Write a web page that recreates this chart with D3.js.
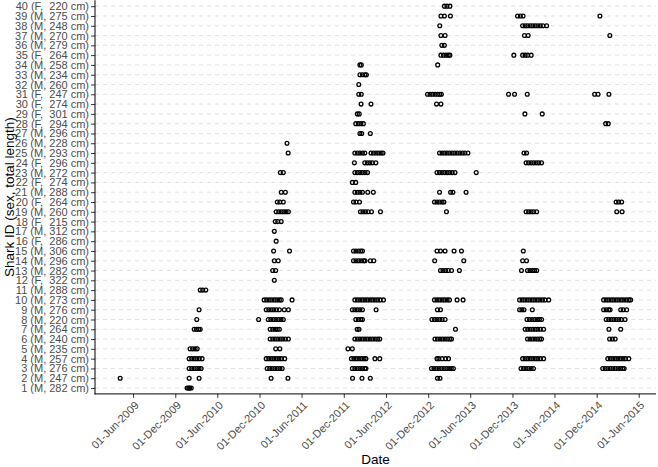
<!DOCTYPE html>
<html>
<head>
<meta charset="utf-8">
<script src="https://cdn.jsdelivr.net/npm/d3@7"></script>
<style>
  html, body { margin: 0; padding: 0; background: #fff; }
  svg { display: block; font-family: "Liberation Sans", Arial, sans-serif; }
</style>
</head>
<body>
<svg id="chart" width="658" height="467"></svg>
<script>
// ---------- data ----------
const sharkIds = d3.range(1, 41);
const sharkLabels = [
  "1 (M, 282 cm)", "2 (M, 247 cm)", "3 (M, 276 cm)", "4 (M, 257 cm)", "5 (M, 235 cm)",
  "6 (M, 240 cm)", "7 (M, 264 cm)", "8 (M, 220 cm)", "9 (M, 276 cm)", "10 (M, 273 cm)",
  "11 (M, 288 cm)", "12 (F,  322 cm)", "13 (M, 282 cm)", "14 (M, 296 cm)", "15 (M, 306 cm)",
  "16 (F,  286 cm)", "17 (M, 312 cm)", "18 (F,  215 cm)", "19 (M, 260 cm)", "20 (F,  264 cm)",
  "21 (M, 288 cm)", "22 (F,  274 cm)", "23 (M, 272 cm)", "24 (F,  296 cm)", "25 (M, 293 cm)",
  "26 (M, 228 cm)", "27 (M, 296 cm)", "28 (F,  294 cm)", "29 (F,  301 cm)", "30 (F,  274 cm)",
  "31 (F,  247 cm)", "32 (M, 260 cm)", "33 (M, 234 cm)", "34 (M, 258 cm)", "35 (F,  264 cm)",
  "36 (M, 279 cm)", "37 (M, 270 cm)", "38 (M, 248 cm)", "39 (M, 275 cm)", "40 (F,  220 cm)"
];
// detection days, counted in days since 1 Jan 2009, one list per shark (index = ID - 1)
const detectionDays = [
  [385, 392, 396, 403],
  [95, 394, 437, 749, 822, 1102, 1143, 1179, 1470, 1481],
  [394, 405, 416, 427, 437, 446, 732, 743, 754, 765, 776, 787, 797, 1101, 1112, 1123, 1134, 1145, 1155, 1160, 1444, 1455, 1466, 1477, 1488, 1499, 1510, 1520, 1530, 1539, 1832, 1843, 1854, 1865, 1876, 1886, 2186, 2197, 2208, 2219, 2230, 2241, 2252, 2263, 2272, 2279],
  [394, 405, 416, 427, 438, 450, 728, 739, 750, 761, 772, 783, 794, 808, 1097, 1108, 1119, 1130, 1141, 1152, 1160, 1199, 1220, 1468, 1476, 1490, 1505, 1518, 1839, 1850, 1861, 1872, 1883, 1894, 1905, 1916, 1930, 2208, 2219, 2230, 2241, 2252, 2263, 2274, 2285, 2299],
  [398, 409, 420, 429, 769, 787, 1082, 1101],
  [745, 756, 767, 778, 789, 800, 811, 824, 1112, 1123, 1134, 1145, 1156, 1167, 1178, 1189, 1200, 1211, 1220, 1459, 1470, 1481, 1492, 1503, 1514, 1524, 1531, 1860, 1871, 1882, 1893, 1904, 1914, 1921, 2216, 2228, 2240],
  [416, 426, 435, 442, 745, 756, 767, 776, 785, 1122, 1130, 1548, 1850, 1861, 1872, 1883, 1894, 1905, 1916, 1930, 2213, 2264],
  [427, 695, 737, 748, 759, 770, 781, 792, 802, 1116, 1127, 1138, 1145, 1446, 1457, 1468, 1479, 1490, 1503, 1858, 1869, 1880, 1891, 1902, 1912, 1921, 2201, 2212, 2223, 2234, 2245, 2256, 2267, 2283],
  [437, 728, 739, 750, 761, 772, 785, 806, 824, 1101, 1112, 1123, 1134, 1145, 1204, 1470, 1483, 1826, 1836, 1845, 1881, 2190, 2201, 2212, 2218, 2264, 2275, 2290],
  [719, 730, 741, 752, 763, 774, 785, 793, 840, 1112, 1123, 1134, 1145, 1156, 1167, 1178, 1189, 1200, 1211, 1222, 1236, 1457, 1468, 1479, 1490, 1501, 1512, 1522, 1555, 1581, 1826, 1837, 1848, 1859, 1870, 1881, 1892, 1903, 1914, 1925, 1936, 1952, 2190, 2201, 2212, 2223, 2234, 2245, 2256, 2267, 2278, 2289, 2300, 2307],
  [442, 453, 466],
  [763],
  [756, 769, 1483, 1494, 1505, 1516, 1531, 1565, 1834, 1860, 1871, 1882, 1891, 1900],
  [763, 780, 1106, 1117, 1128, 1139, 1150, 1156, 1179, 1194, 1458, 1584, 1839, 1856],
  [760, 829, 1106, 1117, 1128, 1138, 1145, 1468, 1483, 1503, 1542, 1574, 1842],
  [771],
  [763],
  [767, 778, 793],
  [771, 782, 793, 804, 814, 824, 1136, 1147, 1158, 1169, 1184, 1223, 1509, 1854, 1865, 1876, 1887, 1900, 2247, 2270],
  [776, 787, 802, 1106, 1117, 1132, 1457, 1468, 1479, 1490, 1498, 2244, 2255, 2268],
  [793, 811, 1112, 1123, 1134, 1145, 1168, 1192, 1479, 1527, 1537, 1594],
  [1101, 1116],
  [789, 802, 1112, 1123, 1134, 1145, 1156, 1167, 1468, 1479, 1490, 1501, 1512, 1523, 1534, 1546, 1638],
  [1110, 1155, 1166, 1177, 1188, 1203, 1854, 1865, 1876, 1887, 1898, 1909, 1921],
  [823, 1112, 1123, 1134, 1145, 1155, 1182, 1193, 1204, 1215, 1226, 1234, 1479, 1490, 1501, 1512, 1523, 1534, 1545, 1556, 1567, 1578, 1589, 1602, 1845, 1856],
  [818],
  [1134, 1142, 1179],
  [1116, 1127, 1138, 1149, 2199, 2210],
  [1123, 1131, 1849, 1924],
  [1139, 1182, 1466, 1485],
  [1129, 1140, 1427, 1438, 1449, 1460, 1471, 1480, 1487, 1778, 1804, 1859, 2151, 2166, 2213],
  [1129],
  [1134, 1145, 1156, 1162],
  [1134, 1140, 1471],
  [1485, 1496, 1507, 1517, 1524, 1801, 1839, 1850, 1861, 1876],
  [1489, 1500],
  [1485, 1503, 1847, 1863, 2217],
  [1480, 1839, 1850, 1861, 1872, 1883, 1894, 1905, 1916, 1927, 1943],
  [1485, 1500, 1526, 1817, 1829, 1841, 2174],
  [1500, 1511, 1524]
];
const dayZero = Date.UTC(2009, 0, 1);
const xDomain = [new Date(Date.UTC(2008, 11, 18)), new Date(Date.UTC(2015, 7, 15))];
const xTickDates = [];
for (let yr = 2009; yr <= 2015; yr++) {
  xTickDates.push(new Date(Date.UTC(yr, 5, 1)));
  if (yr < 2015) xTickDates.push(new Date(Date.UTC(yr, 11, 1)));
}

// ---------- layout ----------
const panel = { left: 95, right: 656, top: 0.3, bottom: 393.9 };

const svg = d3.select("#chart");
const x = d3.scaleUtc().domain(xDomain).range([panel.left, panel.right]);
const y = d3.scalePoint().domain(sharkIds).range([panel.bottom, panel.top]).padding(0.6);

// grid lines
svg.append("g").selectAll("line").data(sharkIds).join("line")
  .attr("x1", panel.left).attr("x2", panel.right)
  .attr("y1", d => y(d)).attr("y2", d => y(d))
  .attr("stroke", "#d6d6d6").attr("stroke-width", 0.7)
  .attr("stroke-dasharray", "4,4");

// points
const points = [];
detectionDays.forEach((days, i) => days.forEach(dd => points.push({ id: i + 1, date: new Date(dayZero + dd * 86400000) })));
svg.append("g").selectAll("circle").data(points).join("circle")
  .attr("cx", d => x(d.date)).attr("cy", d => y(d.id))
  .attr("r", 1.9).attr("fill", "none")
  .attr("stroke", "#000").attr("stroke-width", 1.3);

// y axis
const yAxis = svg.append("g").attr("transform", `translate(${panel.left},0)`)
  .call(d3.axisLeft(y).tickSize(4).tickPadding(2).tickFormat(d => sharkLabels[d - 1]));
yAxis.select(".domain").remove();
yAxis.selectAll(".tick line").attr("stroke", "#333");
yAxis.selectAll(".tick text").attr("fill", "#4d4d4d").attr("font-size", 11)
  .style("white-space", "pre").attr("font-family", "Liberation Sans, Arial, sans-serif");

// x axis
const xAxis = svg.append("g").attr("transform", `translate(0,${panel.bottom})`)
  .call(d3.axisBottom(x).tickValues(xTickDates).tickSize(4).tickFormat(d3.utcFormat("%d-%b-%Y")));
xAxis.select(".domain").remove();
xAxis.selectAll(".tick line").attr("stroke", "#333");
xAxis.selectAll(".tick text")
  .attr("fill", "#4d4d4d").attr("font-size", 11)
  .attr("font-family", "Liberation Sans, Arial, sans-serif")
  .attr("text-anchor", "end")
  .attr("y", 0).attr("dy", 0)
  .attr("transform", "translate(6,12) rotate(-45)");

// axis lines
svg.append("line").attr("x1", panel.left).attr("x2", panel.left)
  .attr("y1", panel.top).attr("y2", panel.bottom + 0.5)
  .attr("stroke", "#000").attr("stroke-width", 1);
svg.append("line").attr("x1", panel.left - 0.5).attr("x2", panel.right)
  .attr("y1", panel.bottom).attr("y2", panel.bottom)
  .attr("stroke", "#000").attr("stroke-width", 1);

// titles
svg.append("text").attr("x", (panel.left + panel.right) / 2).attr("y", 464)
  .attr("text-anchor", "middle").attr("font-size", 13.5).attr("fill", "#000").text("Date");
svg.append("text").attr("transform", `translate(13.5,${(panel.top + panel.bottom) / 2}) rotate(-90)`)
  .attr("text-anchor", "middle").attr("font-size", 13.5).attr("fill", "#000")
  .text("Shark ID (sex, total length)");
</script>
</body>
</html>
